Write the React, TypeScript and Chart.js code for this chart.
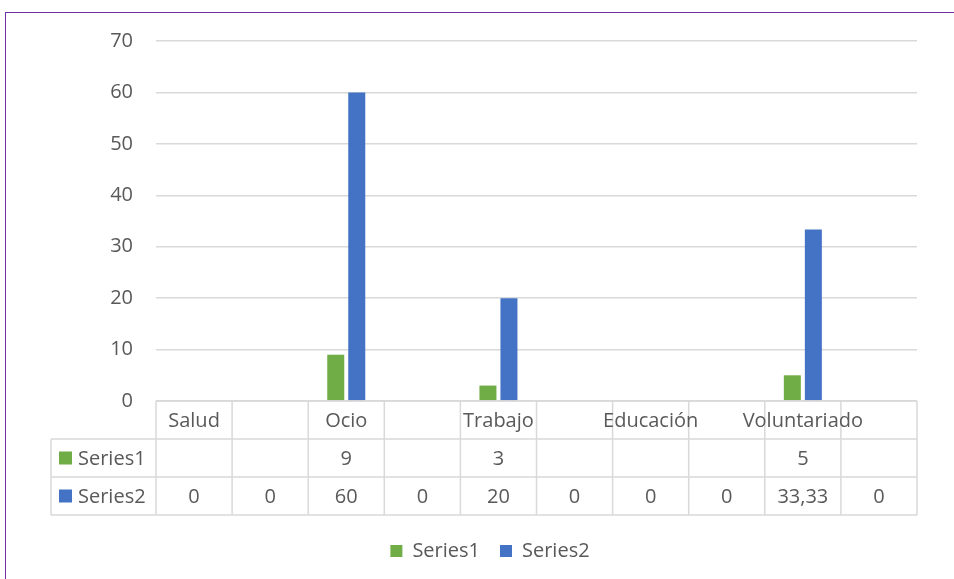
import { useEffect, useRef } from "react";
import { Chart, registerables } from "chart.js";

Chart.register(...registerables);

const categories = ["Salud", "", "Ocio", "", "Trabajo", "", "Educación", "", "Voluntariado", ""];
const series1: (number | null)[] = [null, null, 9, null, 3, null, null, null, 5, null];
const series2: (number | null)[] = [0, 0, 60, 0, 20, 0, 0, 0, 33.33, 0];
const seriesNames = ["Series1", "Series2"];
const seriesColors = ["#70AD47", "#4472C4"];
const yMin = 0;
const yMax = 70;
const yStep = 10;

const FONT = "'Open Sans', 'Noto Sans', sans-serif";
const TEXT = "#595959";
const GRID = "#D9D9D9";

const fmt = (v: number | null) => (v === null ? "" : String(v).replace(".", ","));

const tablePlugin = {
  id: "dataTable",
  afterDraw(chart: any) {
    const { ctx, chartArea } = chart;
    const xs = chart.scales.x;
    const n = categories.length;
    const left = chartArea.left;
    const right = chartArea.right;
    const colW = (right - left) / n;
    const top = chartArea.bottom;
    const rowH = 38;
    const keyLeft = 51;
    const rows = [top, top + rowH, top + rowH * 2, top + rowH * 3];
    ctx.save();
    ctx.strokeStyle = GRID;
    ctx.lineWidth = 1.5;
    ctx.beginPath();
    ctx.moveTo(left, rows[0]);
    ctx.lineTo(right, rows[0]);
    for (let r = 1; r < 4; r++) {
      ctx.moveTo(keyLeft, rows[r]);
      ctx.lineTo(right, rows[r]);
    }
    for (let c = 0; c <= n; c++) {
      const x = left + c * colW;
      ctx.moveTo(x, rows[0]);
      ctx.lineTo(x, rows[3]);
    }
    ctx.moveTo(keyLeft, rows[1]);
    ctx.lineTo(keyLeft, rows[3]);
    ctx.stroke();

    ctx.fillStyle = TEXT;
    ctx.font = `20px ${FONT}`;
    ctx.textAlign = "center";
    ctx.textBaseline = "middle";
    categories.forEach((c, i) => {
      const cx = xs.getPixelForValue(i);
      ctx.fillText(c, cx, (rows[0] + rows[1]) / 2 + 1);
    });
    const data = [series1, series2];
    data.forEach((s, r) => {
      const cy = (rows[r + 1] + rows[r + 2]) / 2;
      s.forEach((v, i) => {
        const cx = xs.getPixelForValue(i);
        ctx.fillStyle = TEXT;
        ctx.fillText(fmt(v), cx, cy + 1);
      });
      ctx.fillStyle = seriesColors[r];
      ctx.fillRect(59, cy - 6.5, 13, 13);
      ctx.fillStyle = TEXT;
      ctx.textAlign = "left";
      ctx.fillText(seriesNames[r], 78, cy + 1);
      ctx.textAlign = "center";
    });
    ctx.restore();
  },
};

export default function App() {
  const canvasRef = useRef<HTMLCanvasElement | null>(null);

  useEffect(() => {
    if (!canvasRef.current) return;
    const chart = new Chart(canvasRef.current, {
      type: "bar",
      data: {
        labels: categories,
        datasets: [
          {
            label: seriesNames[0],
            data: series1,
            backgroundColor: seriesColors[0],
            barPercentage: 0.81,
            categoryPercentage: 0.552,
          },
          {
            label: seriesNames[1],
            data: series2,
            backgroundColor: seriesColors[1],
            barPercentage: 0.81,
            categoryPercentage: 0.552,
          },
        ],
      },
      options: {
        responsive: false,
        animation: false,
        layout: { padding: { left: 63, right: 37, top: 41, bottom: 8 } },
        plugins: {
          legend: {
            position: "bottom",
            labels: {
              boxWidth: 12,
              boxHeight: 12,
              padding: 20,
              color: TEXT,
              font: { family: FONT, size: 20 },
            },
          },
          tooltip: { enabled: false },
        },
        scales: {
          x: {
            ticks: { display: false },
            grid: { display: false },
            border: { display: false },
            afterFit(scale: any) {
              scale.height = 120;
            },
          },
          y: {
            min: yMin,
            max: yMax,
            ticks: {
              stepSize: yStep,
              color: TEXT,
              padding: 23,
              font: { family: FONT, size: 20 },
            },
            grid: { color: GRID, lineWidth: 1.5, drawTicks: false },
            border: { display: false },
            afterFit(scale: any) {
              scale.width = 93;
            },
          },
        },
      },
      plugins: [tablePlugin],
    });
    return () => chart.destroy();
  }, []);

  return (
    <div
      style={{
        position: "fixed",
        left: 0,
        top: 0,
        width: 954,
        height: 579,
        overflow: "hidden",
        background: "#fff",
      }}
    >
      <canvas ref={canvasRef} width={954} height={579} style={{ position: "absolute", left: 0, top: 0 }} />
      <div
        style={{
          position: "absolute",
          left: 5,
          top: 12,
          width: 1200,
          height: 1200,
          border: "1px solid #7030A0",
          pointerEvents: "none",
        }}
      />
    </div>
  );
}
